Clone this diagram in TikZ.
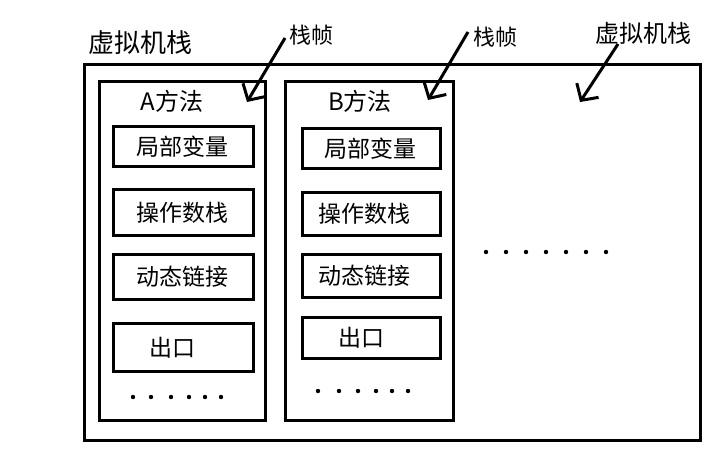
\documentclass[tikz,border=0pt]{standalone}
\usepackage{fontspec}
\setmainfont{Noto Sans CJK SC}
\usetikzlibrary{arrows.meta}
\begin{document}
\begin{tikzpicture}[x=1pt,y=-1pt,
  outerbox/.style={draw, line width=3pt, inner sep=0pt},
  framebox/.style={draw, line width=3pt, inner sep=0pt},
  itembox/.style={draw, line width=3.5pt, inner sep=0pt},
  itemtext/.style={font=\fontsize{23}{26}\selectfont, inner sep=0pt},
  titletext/.style={font=\fontsize{24}{28}\selectfont, inner sep=0pt},
  calltext/.style={font=\fontsize{22}{26}\selectfont, inner sep=0pt},
  pointer/.style={line width=3pt, -{Straight Barb[length=12pt,width=26pt,line width=3pt]}},
  dotmark/.style={fill=black}
]
\useasboundingbox (0,0) rectangle (712,450);

% outer stack
\node[outerbox, minimum width=616pt, minimum height=376pt] (vm) at (392.5,252.5) {};

% frames
\node[framebox, minimum width=166pt, minimum height=339pt] (fa) at (182.5,251) {};
\node[framebox, minimum width=168pt, minimum height=339pt] (fb) at (369.5,251) {};

% titles
\node[titletext] (ta) at (172,101) {A方法};
\node[titletext] (tb) at (360,101) {B方法};

% A items
\node[itembox, minimum width=140pt, minimum height=40pt] (a1) at (183.5,146.5) {};
\node[itembox, minimum width=140pt, minimum height=46pt] (a2) at (183.5,212.5) {};
\node[itembox, minimum width=140pt, minimum height=45pt] (a3) at (183.5,277) {};
\node[itembox, minimum width=140pt, minimum height=48pt] (a4) at (183.5,347.5) {};
\node[itemtext] (a1t) at ([xshift=-1pt]a1.center) {局部变量};
\node[itemtext] (a2t) at ([xshift=-1pt]a2.center) {操作数栈};
\node[itemtext] (a3t) at ([xshift=-1pt]a3.center) {动态链接};
\node[itemtext] (a4t) at ([xshift=-11pt]a4.center) {出口};

% B items
\node[itembox, minimum width=138pt, minimum height=40pt] (b1) at (371.5,148.5) {};
\node[itembox, minimum width=138pt, minimum height=43pt] (b2) at (371.5,214) {};
\node[itembox, minimum width=138pt, minimum height=43pt] (b3) at (371.5,276) {};
\node[itembox, minimum width=138pt, minimum height=41pt] (b4) at (371.5,338) {};
\node[itemtext] (b1t) at ([xshift=-1pt]b1.center) {局部变量};
\node[itemtext] (b2t) at ([xshift=-7pt]b2.center) {操作数栈};
\node[itemtext] (b3t) at ([xshift=-7pt]b3.center) {动态链接};
\node[itemtext] (b4t) at ([xshift=-10pt]b4.center) {出口};

% dots
\foreach \x in {133,151,171,189,205,221} \fill[dotmark] (\x,397) circle (2.2pt);
\foreach \x in {318,339,358,376,392,408} \fill[dotmark] (\x,391) circle (2.2pt);
\foreach \x in {486,506,526,546,566,586,606} \fill[dotmark] (\x,252) circle (2.2pt);

% callout labels
\node[titletext, font=\fontsize{26}{30}\selectfont] (lvm) at (140,43) {虚拟机栈};
\node[calltext] (lf1) at (311,35) {栈帧};
\node[calltext] (lf2) at (495,37) {栈帧};
\node[titletext] (lvm2) at (643,33) {虚拟机栈};

% pointers
\coordinate (p1s) at (285,38);
\coordinate (p1e) at (247,102);
\coordinate (p2s) at (468,32);
\coordinate (p2e) at (428,100);
\coordinate (p3s) at (618,44);
\coordinate (p3e) at (580,102);
\draw[pointer] (p1s) -- (p1e);
\draw[pointer] (p2s) -- (p2e);
\draw[pointer] (p3s) -- (p3e);
\end{tikzpicture}
\end{document}
